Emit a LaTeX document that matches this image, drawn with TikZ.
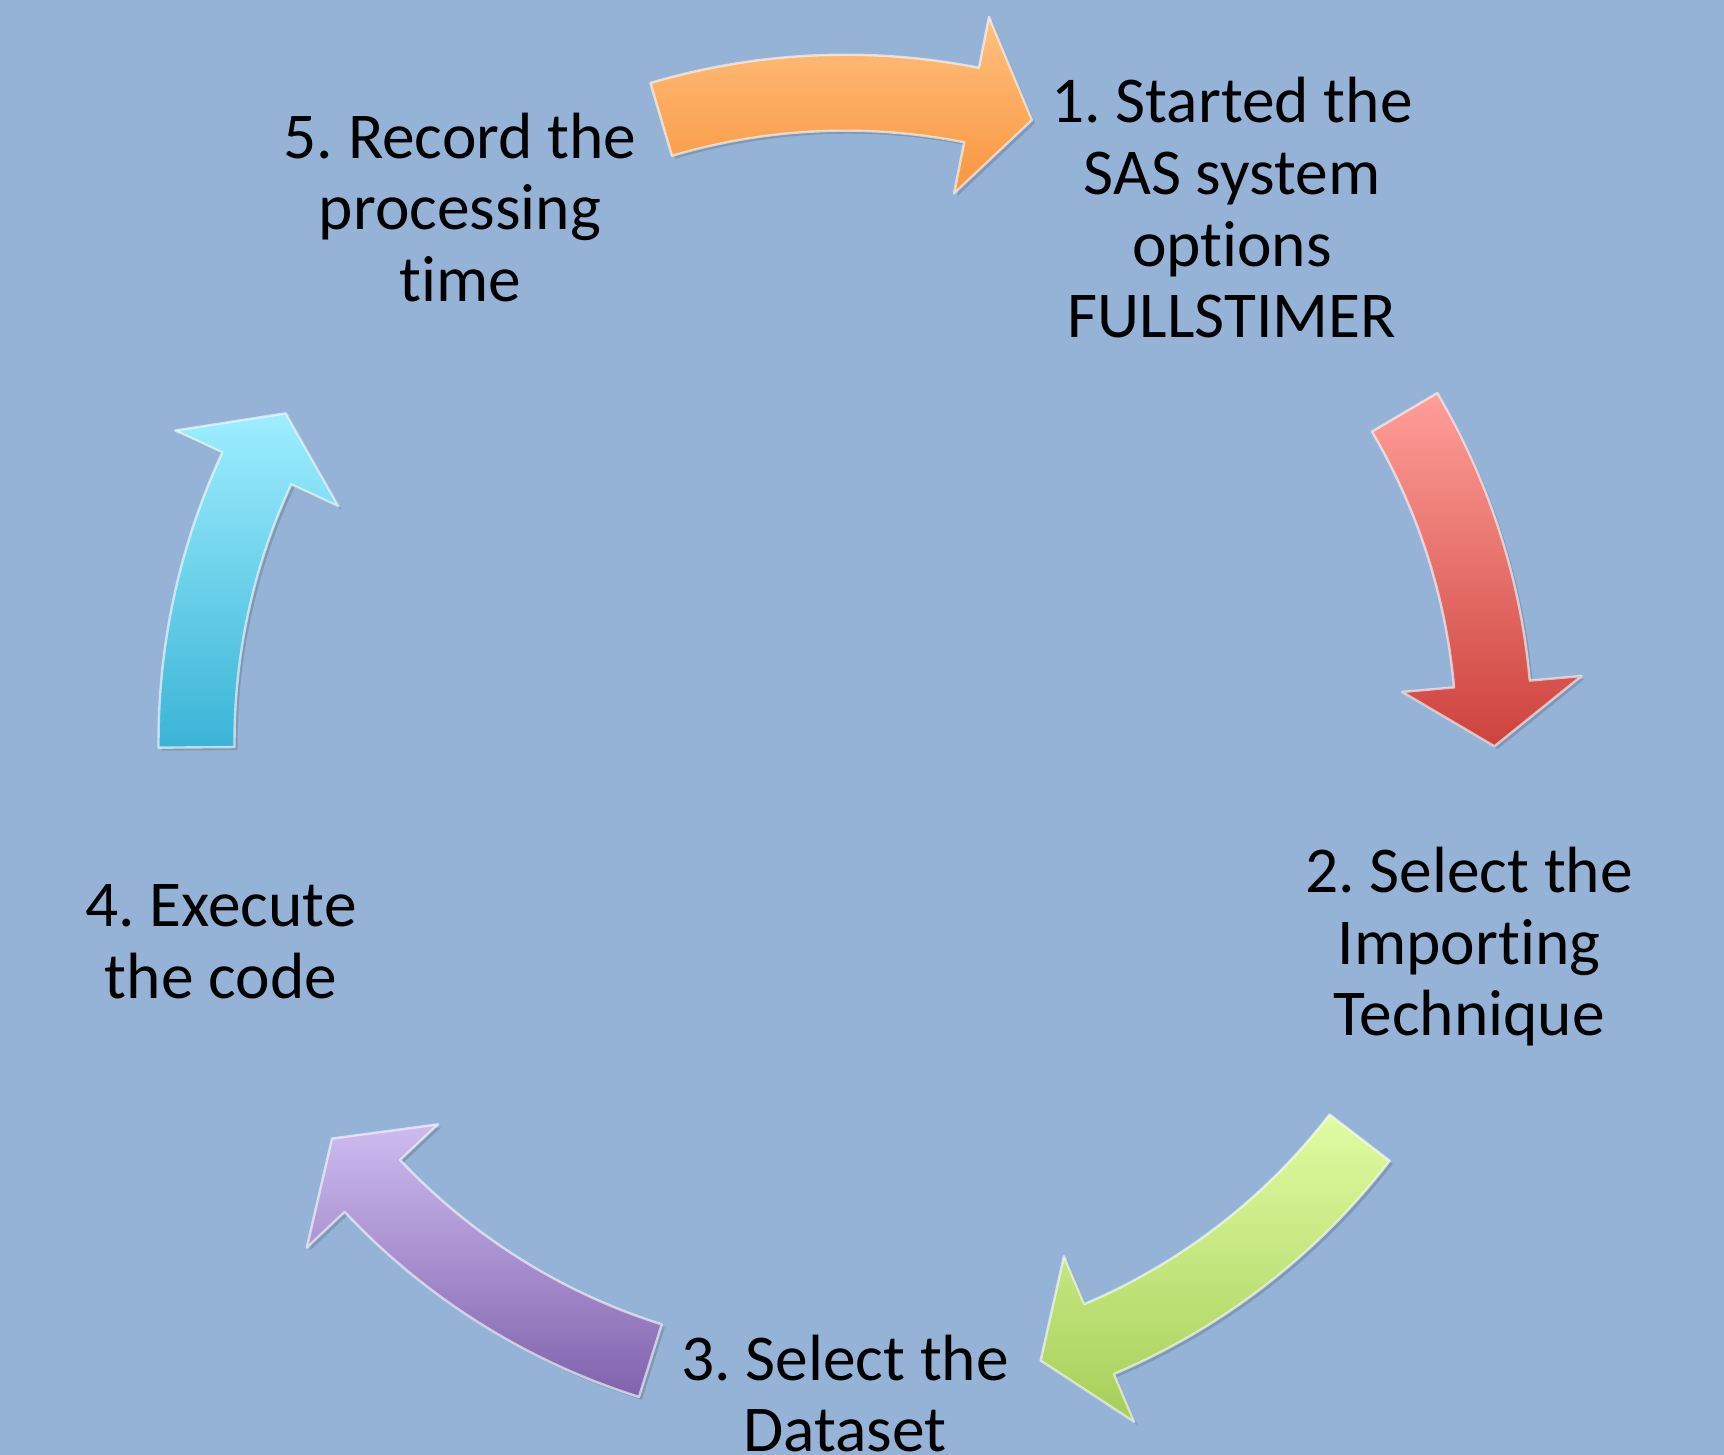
\documentclass[tikz,border=0pt]{standalone}
\usepackage{fontspec}
\setmainfont{Carlito}[Ligatures=NoCommon]
\frenchspacing
\definecolor{bgblue}{RGB}{149,179,215}
\definecolor{orangetop}{RGB}{255,192,128}
\definecolor{orangebot}{RGB}{248,150,62}
\definecolor{redtop}{RGB}{255,158,152}
\definecolor{redbot}{RGB}{205,66,60}
\definecolor{greentop}{RGB}{224,252,162}
\definecolor{greenbot}{RGB}{166,206,88}
\definecolor{purpletop}{RGB}{206,188,240}
\definecolor{purplebot}{RGB}{128,98,172}
\definecolor{cyantop}{RGB}{158,238,255}
\definecolor{cyanbot}{RGB}{58,180,214}

\begin{document}
\begin{tikzpicture}[x=0.5pt,y=0.5pt,
  cycarrow/.style={draw=white, draw opacity=0.6, line width=1.2pt, line join=round,
    preaction={fill=black, fill opacity=0.15, transform canvas={shift={(1.5pt,-1.5pt)}}}},
  steptext/.style={font=\fontsize{32.7}{35.85}\selectfont, align=center, inner sep=0pt, anchor=base}]

%Background [whole page]
\fill[bgblue] (0,0) rectangle (1724,1455);
\useasboundingbox (0,0) rectangle (1724,1455);
\coordinate (c) at (845.5,713.3);

%Curved Arrow [id:five-to-one]
\draw[cycarrow, top color=orangetop, bottom color=orangebot, shift={(c)}]
  (106.5:687) arc[start angle=106.5, end angle=78.8, radius=687] -- (78.8:739) -- (73.3:649)
  -- (78.8:559) -- (78.8:611) arc[start angle=78.8, end angle=106.5, radius=611] -- cycle;

%Curved Arrow [id:one-to-two]
\draw[cycarrow, top color=redtop, bottom color=redbot, shift={(c)}]
  (30.5:687) arc[start angle=30.5, end angle=5.1, radius=687] -- (5.1:739) -- (-0.4:649)
  -- (5.1:559) -- (5.1:611) arc[start angle=5.1, end angle=30.5, radius=611] -- cycle;

%Curved Arrow [id:two-to-three]
\draw[cycarrow, top color=greentop, bottom color=greenbot, shift={(c)}]
  (-37.6:687) arc[start angle=-37.6, end angle=-67, radius=687] -- (-67:739) -- (-72.5:649)
  -- (-67:559) -- (-67:611) arc[start angle=-67, end angle=-37.6, radius=611] -- cycle;

%Curved Arrow [id:three-to-four]
\draw[cycarrow, top color=purpletop, bottom color=purplebot, shift={(c)}]
  (-107.5:687) arc[start angle=-107.5, end angle=-136.8, radius=687] -- (-136.8:739) -- (-142.3:649)
  -- (-136.8:559) -- (-136.8:611) arc[start angle=-136.8, end angle=-107.5, radius=611] -- cycle;

%Curved Arrow [id:four-to-five]
\draw[cycarrow, top color=cyantop, bottom color=cyanbot, shift={(c)}]
  (180.5:687) arc[start angle=180.5, end angle=155.1, radius=687] -- (155.1:739) -- (149.6:649)
  -- (155.1:559) -- (155.1:611) arc[start angle=155.1, end angle=180.5, radius=611] -- cycle;

% Text Node
\node[steptext] (s1) at (1232,1117) {1. Started the\\SAS system\\options\\FULLSTIMER};
% Text Node
\node[steptext] (s2) at (1469,419) {2. Select the\\Importing\\Technique};
% Text Node
\node[steptext] (s3) at (845,3) {3. Select the\\Dataset};
% Text Node
\node[steptext] (s4) at (221,456.3) {4. Execute\\the code};
% Text Node
\node[steptext] (s5) at (460,1153.3) {5. Record the\\processing\\time};

\end{tikzpicture}
\end{document}
